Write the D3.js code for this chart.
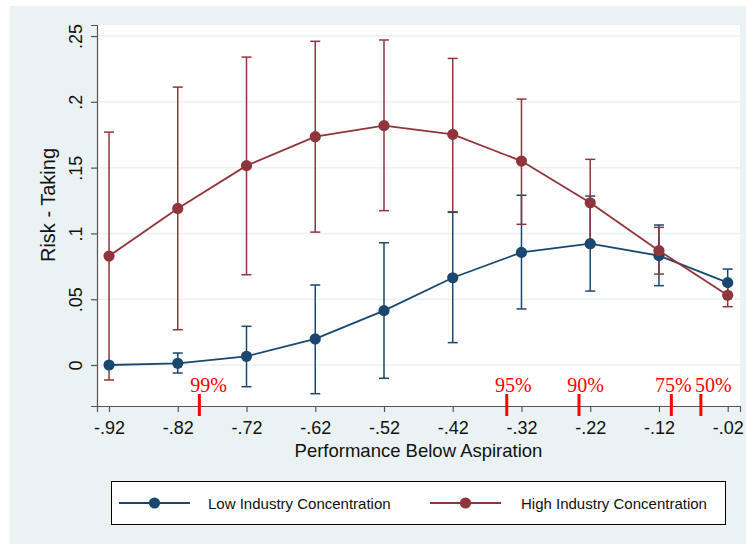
<!DOCTYPE html>
<html>
<head>
<meta charset="utf-8">
<script src="https://cdn.jsdelivr.net/npm/d3@7"></script>
<style>
  body { margin: 0; background: #fff; }
</style>
</head>
<body>
<svg id="chart" width="746" height="544"></svg>
<script>
// values
var xValues = [-0.92, -0.82, -0.72, -0.62, -0.52, -0.42, -0.32, -0.22, -0.12, -0.02];

var lowMean  = [0.0000, 0.0013, 0.0066, 0.0198, 0.0413, 0.0663, 0.0856, 0.0922, 0.0831, 0.0626];
var lowLo    = [0.0000, -0.0061, -0.0165, -0.0218, -0.0101, 0.0170, 0.0426, 0.0562, 0.0603, 0.0523];
var lowHi    = [0.0000, 0.0091, 0.0294, 0.0608, 0.0929, 0.1160, 0.1290, 0.1284, 0.1064, 0.0729];

var highMean = [0.0828, 0.1190, 0.1515, 0.1735, 0.1819, 0.1753, 0.1550, 0.1233, 0.0869, 0.0530];
var highLo   = [-0.0114, 0.0268, 0.0686, 0.1010, 0.1173, 0.1165, 0.1069, 0.0903, 0.0691, 0.0443];
var highHi   = [0.1770, 0.2112, 0.2340, 0.2460, 0.2470, 0.2330, 0.2021, 0.1563, 0.1046, 0.0617];

var yTicks = [0, 0.05, 0.1, 0.15, 0.2, 0.25];
var yTickLabels = ["0", ".05", ".1", ".15", ".2", ".25"];
var xTickLabels = ["-.92", "-.82", "-.72", "-.62", "-.52", "-.42", "-.32", "-.22", "-.12", "-.02"];

// percentile markers along the x axis
var pctLabels = ["99%", "95%", "90%", "75%", "50%"];
var pctPos    = [-0.7886, -0.3414, -0.2363, -0.1020, -0.0590];
var pctText   = [-0.8020, -0.3585, -0.2533, -0.1257, -0.0676];

var seriesNames = ["Low Industry Concentration", "High Industry Concentration"];
var blue = "#1a476f", red = "#90353b";
var sans = "'Liberation Sans', Arial, sans-serif";
var serif = "'Liberation Serif', 'Times New Roman', serif";

var svg = d3.select("#chart");

// graph region
svg.append("rect").attr("x", 10).attr("y", 6).attr("width", 736).attr("height", 538)
    .attr("fill", "#eaf2f3");

var plot = { left: 97, right: 740, top: 25, bottom: 406 };
svg.append("rect").attr("x", plot.left).attr("y", plot.top)
    .attr("width", plot.right - plot.left).attr("height", plot.bottom - plot.top)
    .attr("fill", "#fff");

var x = d3.scaleLinear().domain([-0.9375, -0.0021]).range([plot.left, plot.right]);
var y = d3.scaleLinear().domain([-0.03116, 0.2584]).range([plot.bottom, plot.top]);

// grid
svg.append("g").selectAll("line").data(yTicks).enter().append("line")
    .attr("x1", plot.left).attr("x2", plot.right)
    .attr("y1", function(d) { return y(d); }).attr("y2", function(d) { return y(d); })
    .attr("stroke", "#eaf2f3").attr("stroke-width", 1.5);

// axes
var yAxis = d3.axisLeft(y).tickValues(yTicks).tickSize(6)
    .tickFormat(function(d, i) { return yTickLabels[i]; });
var gy = svg.append("g").attr("transform", "translate(" + plot.left + ",0)").call(yAxis);
gy.select(".domain").attr("stroke", "#555").attr("stroke-width", 1.2);
gy.selectAll(".tick line").attr("stroke", "#555").attr("stroke-width", 1.2);
gy.selectAll(".tick text")
    .attr("x", 0).attr("dy", 0)
    .attr("transform", "translate(-15,0) rotate(-90)")
    .attr("text-anchor", "middle")
    .attr("fill", "#111")
    .style("font-family", sans).style("font-size", "18px");

var xAxis = d3.axisBottom(x).tickValues(xValues).tickSize(6)
    .tickFormat(function(d, i) { return xTickLabels[i]; });
var gx = svg.append("g").attr("transform", "translate(0," + plot.bottom + ")").call(xAxis);
gx.select(".domain").attr("stroke", "#555").attr("stroke-width", 1.2);
gx.selectAll(".tick line").attr("stroke", "#555").attr("stroke-width", 1.2);
gx.selectAll(".tick text")
    .attr("y", 28).attr("dy", 0)
    .attr("fill", "#111")
    .style("font-family", sans).style("font-size", "18px");

// axis titles
svg.append("text").attr("x", (plot.left + plot.right) / 2).attr("y", 457)
    .attr("text-anchor", "middle").attr("fill", "#111")
    .style("font-family", sans).style("font-size", "18.5px")
    .text("Performance Below Aspiration");
svg.append("text").attr("transform", "translate(55,205) rotate(-90)")
    .attr("text-anchor", "middle").attr("fill", "#111")
    .style("font-family", sans).style("font-size", "20px")
    .text("Risk - Taking");

// series
function rows(mean, lo, hi) {
    return xValues.map(function(v, i) { return { x: v, m: mean[i], lo: lo[i], hi: hi[i] }; });
}
var low = rows(lowMean, lowLo, lowHi);
var high = rows(highMean, highLo, highHi);

function drawCaps(data, color) {
    var g = svg.append("g").attr("stroke", color).attr("stroke-width", 1.5).attr("fill", "none");
    g.selectAll(".v").data(data).enter().append("line")
        .attr("x1", function(d) { return x(d.x); }).attr("x2", function(d) { return x(d.x); })
        .attr("y1", function(d) { return y(d.lo); }).attr("y2", function(d) { return y(d.hi); });
    ["lo", "hi"].forEach(function(k) {
        g.selectAll(".c" + k).data(data).enter().append("line")
            .attr("x1", function(d) { return x(d.x) - 5; }).attr("x2", function(d) { return x(d.x) + 5; })
            .attr("y1", function(d) { return y(d[k]); }).attr("y2", function(d) { return y(d[k]); });
    });
}

function drawLine(data, color) {
    var line = d3.line().x(function(d) { return x(d.x); }).y(function(d) { return y(d.m); });
    svg.append("path").datum(data).attr("d", line)
        .attr("fill", "none").attr("stroke", color).attr("stroke-width", 1.8);
    svg.append("g").selectAll("circle").data(data).enter().append("circle")
        .attr("cx", function(d) { return x(d.x); }).attr("cy", function(d) { return y(d.m); })
        .attr("r", 5.6).attr("fill", color);
}

drawCaps(low, blue);
drawCaps(high, red);
drawLine(low, blue);
drawLine(high, red);

// percentile markers
svg.append("g").selectAll("line").data(pctPos).enter().append("line")
    .attr("x1", function(d) { return x(d); }).attr("x2", function(d) { return x(d); })
    .attr("y1", 394).attr("y2", 416)
    .attr("stroke", "#ff0000").attr("stroke-width", 3);
svg.append("g").selectAll("text").data(pctLabels).enter().append("text")
    .attr("x", function(d, i) { return x(pctText[i]); }).attr("y", 392)
    .attr("fill", "#ff0000")
    .style("font-family", serif).style("font-size", "20px")
    .text(function(d) { return d; });

// legend
var legend = svg.append("g");
legend.append("rect").attr("x", 111.5).attr("y", 481.5).attr("width", 614).attr("height", 43)
    .attr("fill", "#fff").attr("stroke", "#000").attr("stroke-width", 1);
var legItems = [
    { name: seriesNames[0], color: blue, x0: 119, x1: 190, tx: 208 },
    { name: seriesNames[1], color: red, x0: 430, x1: 501, tx: 521 }
];
legItems.forEach(function(it) {
    legend.append("line").attr("x1", it.x0).attr("x2", it.x1).attr("y1", 503).attr("y2", 503)
        .attr("stroke", it.color).attr("stroke-width", 1.8);
    legend.append("circle").attr("cx", (it.x0 + it.x1) / 2).attr("cy", 503).attr("r", 5.6)
        .attr("fill", it.color);
    legend.append("text").attr("x", it.tx).attr("y", 508.5)
        .attr("fill", "#111")
        .style("font-family", sans).style("font-size", "15px")
        .text(it.name);
});
</script>
</body>
</html>
